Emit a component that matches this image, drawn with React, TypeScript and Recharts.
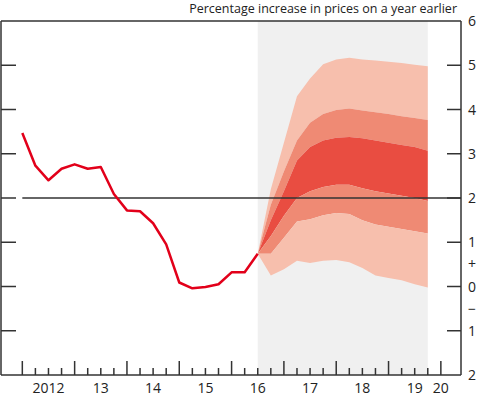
import React from 'react';
import {
  ComposedChart, Line, Area, XAxis, YAxis, ReferenceArea, ReferenceLine,
} from 'recharts';

// CPI inflation, quarterly (q = 0 is the first outturn)
const cpiHistory = [3.47, 2.73, 2.4, 2.66, 2.76, 2.66, 2.7, 2.09, 1.72, 1.7, 1.43, 0.95, 0.09, -0.04, -0.01, 0.05, 0.32, 0.32, 0.74];

// fan chart band edges, from the last outturn quarter onwards
const fanStart = 18;
const lightUpper = [0.74, 2.2, 3.25, 4.3, 4.7, 5.02, 5.13, 5.17, 5.13, 5.11, 5.08, 5.05, 5.01, 4.98];
const mediumUpper = [0.74, 1.85, 2.6, 3.3, 3.7, 3.9, 3.99, 4.02, 3.98, 3.94, 3.9, 3.85, 3.81, 3.76];
const darkUpper = [0.74, 1.5, 2.15, 2.85, 3.15, 3.3, 3.36, 3.38, 3.35, 3.3, 3.25, 3.2, 3.15, 3.07];
const darkLower = [0.74, 1.14, 1.6, 2.0, 2.15, 2.25, 2.3, 2.3, 2.22, 2.15, 2.1, 2.05, 2.0, 1.93];
const mediumLower = [0.74, 0.74, 1.1, 1.47, 1.52, 1.61, 1.66, 1.64, 1.5, 1.4, 1.35, 1.3, 1.25, 1.2];
const lightLower = [0.74, 0.25, 0.39, 0.58, 0.53, 0.58, 0.6, 0.55, 0.42, 0.25, 0.19, 0.14, 0.05, -0.02];

const yearLabels = ['2012', '13', '14', '15', '16', '17', '18', '19', '20'];
const yearLabelQuarters = [2, 6, 10, 14, 18, 22, 26, 30, 32];
const quarterTicks = Array.from({ length: 33 }, (_, i) => i);

const rightTicks = [6, 5, 4, 3, 2, 1, 0.5, 0, -0.5, -1, -2];
const rightLabels = ['6', '5', '4', '3', '2', '1', '+', '0', '\u2212', '1', '2'];
const leftTicks = [5, 4, 3, 2, 1, 0, -1];

const target = 2;

const data = Array.from({ length: fanStart + lightUpper.length }, (_, q) => {
  const row: any = { q };
  if (q < cpiHistory.length) row.cpi = cpiHistory[q];
  const i = q - fanStart;
  if (i >= 0) {
    row.b1 = [mediumUpper[i], lightUpper[i]];
    row.b2 = [darkUpper[i], mediumUpper[i]];
    row.b3 = [darkLower[i], darkUpper[i]];
    row.b4 = [mediumLower[i], darkLower[i]];
    row.b5 = [lightLower[i], mediumLower[i]];
  }
  return row;
});

const FONT = '"Open Sans", sans-serif';
const INK = '#222';
const FRAME = '#333';
const LIGHT = '#f7bfad';
const MEDIUM = '#ef8a74';
const DARK = '#e94d41';
const X_DOMAIN = [-1.63, 33.54];

const BottomTick = (props: any) => {
  const { x, y, payload } = props;
  const q = payload.value;
  const h = q % 4 === 0 ? 14 : 7;
  const li = yearLabelQuarters.indexOf(q);
  return (
    <g>
      <line x1={x} x2={x} y1={y} y2={y - h} stroke={FRAME} strokeWidth={1.5} />
      {li >= 0 && (
        <text x={x} y={y + 18} textAnchor="middle" fontSize={14} fontFamily={FONT} fill={INK}>
          {yearLabels[li]}
        </text>
      )}
    </g>
  );
};

const RightTick = (props: any) => {
  const { x, y, payload } = props;
  const v = payload.value;
  const i = rightTicks.indexOf(v);
  const showLine = Number.isInteger(v) && v > -2 && v < 6;
  return (
    <g>
      {showLine && <line x1={x - 14} x2={x} y1={y} y2={y} stroke={FRAME} strokeWidth={1.5} />}
      <text x={x + 7} y={y} dy="0.36em" textAnchor="start" fontSize={14} fontFamily={FONT} fill={INK}>
        {rightLabels[i]}
      </text>
    </g>
  );
};

const LeftTick = (props: any) => {
  const { x, y } = props;
  return <line x1={x} x2={x + 15} y1={y} y2={y} stroke={FRAME} strokeWidth={1.5} />;
};

export default function App() {
  return (
    <div style={{ position: 'absolute', left: 0, top: 0, width: 480, height: 396, background: '#fff' }}>
      <div
        style={{
          position: 'absolute', right: 23, top: 0, fontFamily: FONT, fontSize: 12.5,
          color: INK, whiteSpace: 'nowrap', lineHeight: '18px',
        }}
      >
        Percentage increase in prices on a year earlier
      </div>
      <ComposedChart width={480} height={396} data={data} margin={{ top: 0, right: 0, bottom: 0, left: 0 }}>
        <XAxis
          dataKey="q" type="number" domain={X_DOMAIN} ticks={quarterTicks} allowDataOverflow
          height={21} tickSize={0} tickMargin={0} tick={<BottomTick />}
          axisLine={{ stroke: FRAME, strokeWidth: 1.5 }} interval={0}
        />
        <XAxis
          xAxisId="top" orientation="top" type="number" domain={X_DOMAIN} allowDataOverflow
          height={21} tick={false} tickLine={false} axisLine={{ stroke: FRAME, strokeWidth: 1.5 }}
        />
        <YAxis
          yAxisId="left" type="number" domain={[-2, 6]} ticks={leftTicks} width={1}
          tickSize={0} tickMargin={0} tick={<LeftTick />} axisLine={{ stroke: FRAME, strokeWidth: 1.5 }}
          interval={0}
        />
        <YAxis
          yAxisId="right" orientation="right" type="number" domain={[-2, 6]} ticks={rightTicks} width={19}
          tickSize={0} tickMargin={0} tick={<RightTick />} axisLine={{ stroke: FRAME, strokeWidth: 1.5 }}
          interval={0} allowDataOverflow
        />
        <ReferenceArea
          yAxisId="left" x1={fanStart} x2={fanStart + lightUpper.length - 1} y1={-2} y2={6}
          fill="#f0f0f0" fillOpacity={1} stroke="none"
        />
        <Area yAxisId="left" dataKey="b1" type="linear" fill={LIGHT} fillOpacity={1} stroke="none" isAnimationActive={false} />
        <Area yAxisId="left" dataKey="b2" type="linear" fill={MEDIUM} fillOpacity={1} stroke="none" isAnimationActive={false} />
        <Area yAxisId="left" dataKey="b3" type="linear" fill={DARK} fillOpacity={1} stroke="none" isAnimationActive={false} />
        <Area yAxisId="left" dataKey="b4" type="linear" fill={MEDIUM} fillOpacity={1} stroke="none" isAnimationActive={false} />
        <Area yAxisId="left" dataKey="b5" type="linear" fill={LIGHT} fillOpacity={1} stroke="none" isAnimationActive={false} />
        <ReferenceLine
          yAxisId="left"
          segment={[{ x: 0, y: target }, { x: X_DOMAIN[1], y: target }]}
          stroke={FRAME} strokeWidth={1.5} ifOverflow="visible"
        />
        <Line
          yAxisId="left" dataKey="cpi" type="linear" stroke="#e2001a" strokeWidth={2.5}
          dot={false} isAnimationActive={false} strokeLinejoin="round"
        />
        {/* invisible copy so the right-hand scale is registered */}
        <Line
          yAxisId="right" dataKey="cpi" type="linear" stroke="none" dot={false}
          activeDot={false} legendType="none" isAnimationActive={false}
        />
      </ComposedChart>
    </div>
  );
}
